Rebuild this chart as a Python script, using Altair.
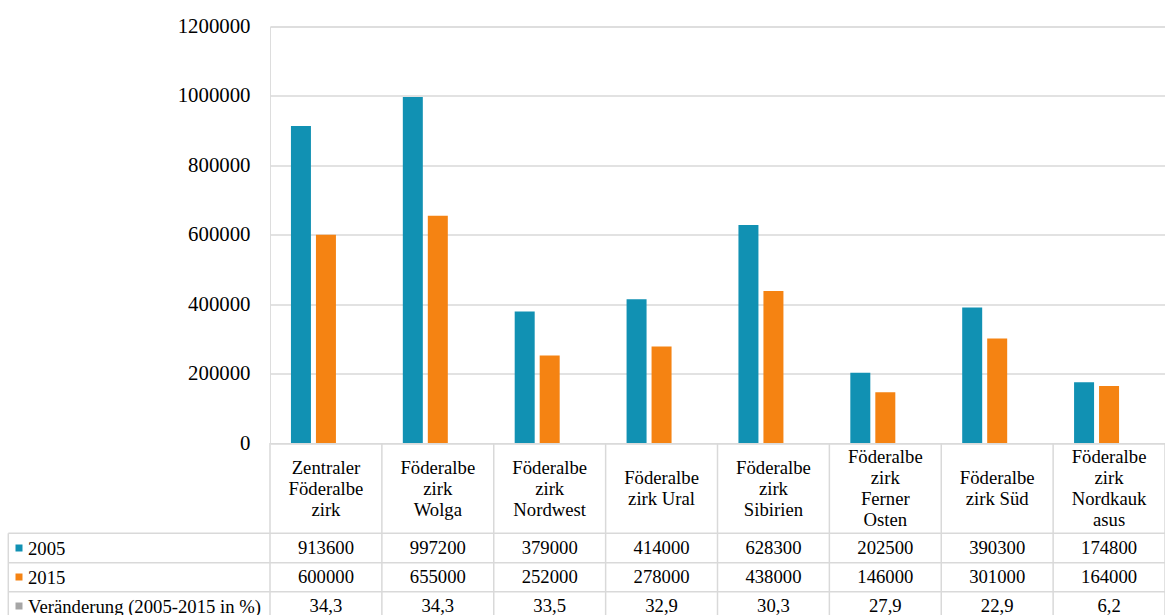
import altair as alt
import pandas as pd

# Federal districts (category order) and the wrapped header text shown in the table
categories = [
    "Zentraler Föderalbezirk",
    "Föderalbezirk Wolga",
    "Föderalbezirk Nordwest",
    "Föderalbezirk Ural",
    "Föderalbezirk Sibirien",
    "Föderalbezirk Ferner Osten",
    "Föderalbezirk Süd",
    "Föderalbezirk Nordkaukasus",
]
header_labels = [
    "Zentraler\nFöderalbe\nzirk",
    "Föderalbe\nzirk\nWolga",
    "Föderalbe\nzirk\nNordwest",
    "Föderalbe\nzirk Ural",
    "Föderalbe\nzirk\nSibirien",
    "Föderalbe\nzirk\nFerner\nOsten",
    "Föderalbe\nzirk Süd",
    "Föderalbe\nzirk\nNordkauk\nasus",
]

series = ["2005", "2015", "Veränderung (2005-2015 in %)"]
colors = ["#1191B3", "#F58312", "#A6A6A6"]

values_2005 = [913600, 997200, 379000, 414000, 628300, 202500, 390300, 174800]
values_2015 = [600000, 655000, 252000, 278000, 438000, 146000, 301000, 164000]
change_pct = [34.3, 34.3, 33.5, 32.9, 30.3, 27.9, 22.9, 6.2]

y_ticks = [0, 200000, 400000, 600000, 800000, 1000000, 1200000]

# ---- layout (pixels) ----
W, H = 895, 416.5
FONT = "Liberation Serif"
TXT = 18.7
LINE_H = 21
LINE = "#D9D9D9"
TABLE_LEFT = -261.7
row_lines = [506.8, 536.2, 565.2]
row_centers = {series[0]: 521.5, series[1]: 550.5, series[2]: 579.5}
header_center = 462
bottom = 600

long = pd.DataFrame(
    [
        {"category": c, "series": s, "value": v}
        for s, vals in zip(series, [values_2005, values_2015, change_pct])
        for c, v in zip(categories, vals)
    ]
)
cats = pd.DataFrame({"category": categories, "header": header_labels})
rows = pd.DataFrame({"series": series})

x_band = alt.Scale(domain=categories, paddingInner=0, paddingOuter=0)
color_scale = alt.Scale(domain=series, range=colors)


def xcat(pos=0.5):
    return alt.X("category:N", sort=categories, scale=x_band, axis=None, bandPosition=pos)


bars = alt.Chart(long).mark_bar().encode(
    x=xcat(),
    xOffset=alt.XOffset(
        "series:N", sort=series,
        scale=alt.Scale(domain=series, paddingInner=0.2, paddingOuter=0.838),
    ),
    y=alt.Y(
        "value:Q",
        scale=alt.Scale(domain=[0, 1200000], nice=False),
        axis=alt.Axis(
            values=y_ticks, format="d", title=None, ticks=False, domain=False,
            labelFont=FONT, labelFontSize=20.8, labelColor="#000000", labelPadding=20,
            gridColor=LINE, gridWidth=1.5,
        ),
    ),
    color=alt.Color("series:N", scale=color_scale, legend=None),
)

# table: column separators
col_lines = alt.Chart(cats).mark_rule(color=LINE, strokeWidth=1.5).encode(
    x=xcat(0), y=alt.value(H), y2=alt.value(bottom)
)
last_line = alt.Chart(cats).transform_filter(
    alt.datum.category == categories[-1]
).mark_rule(color=LINE, strokeWidth=1.5).encode(
    x=xcat(1), y=alt.value(H), y2=alt.value(bottom)
)
left_line = alt.Chart(cats).transform_filter(
    alt.datum.category == categories[0]
).mark_rule(color=LINE, strokeWidth=1.5).encode(
    x=alt.value(TABLE_LEFT), y=alt.value(row_lines[0]), y2=alt.value(bottom)
)
hlines = [
    alt.Chart(cats).transform_filter(alt.datum.category == categories[0])
    .mark_rule(color=LINE, strokeWidth=1.5)
    .encode(x=alt.value(TABLE_LEFT), x2=alt.value(W), y=alt.value(yv))
    for yv in row_lines
]

# table: header row with district names, each block centred vertically in its cell
headers = (
    alt.Chart(cats)
    .transform_calculate(
        shift=f"-(length(split(datum.header, '\\n')) - 1) * {LINE_H} / 2"
    )
    .mark_text(
        font=FONT, fontSize=TXT, lineBreak="\n", lineHeight=LINE_H,
        align="center", baseline="middle", color="#000000",
    )
    .encode(
        x=xcat(),
        y=alt.value(header_center),
        yOffset=alt.YOffset("shift:Q", scale=None),
        text="header:N",
    )
)

# table: value rows
cell_layers = []
label_layers = []
for s in series:
    cell_layers.append(
        alt.Chart(long)
        .transform_filter(alt.datum.series == s)
        .transform_calculate(
            label="datum.series == '" + series[2] + "' ? "
            "replace(format(datum.value, '.1f'), '.', ',') : format(datum.value, 'd')"
        )
        .mark_text(font=FONT, fontSize=TXT, align="center", baseline="middle", color="#000000")
        .encode(x=xcat(), y=alt.value(row_centers[s]), text="label:N")
    )
    one = alt.Chart(rows).transform_filter(alt.datum.series == s)
    label_layers.append(
        one.mark_square(size=49, opacity=1).encode(
            x=alt.value(-251), y=alt.value(row_centers[s]),
            color=alt.Color("series:N", scale=color_scale, legend=None),
        )
    )
    label_layers.append(
        one.mark_text(font=FONT, fontSize=TXT, align="left", baseline="middle", color="#000000")
        .encode(x=alt.value(-242), y=alt.value(row_centers[s] + 1), text="series:N")
    )

chart = (
    alt.layer(bars, col_lines, last_line, left_line, *hlines, headers, *cell_layers, *label_layers)
    .properties(
        width=W, height=H,
        autosize=alt.AutoSizeParams(type="none"),
        padding={"left": 270, "top": 26.5, "right": 0, "bottom": 172},
    )
    .configure_view(strokeWidth=0)
    .configure(background="#FFFFFF", font=FONT)
)

chart.save("out.html", embed_options={"renderer": "svg", "actions": False})
